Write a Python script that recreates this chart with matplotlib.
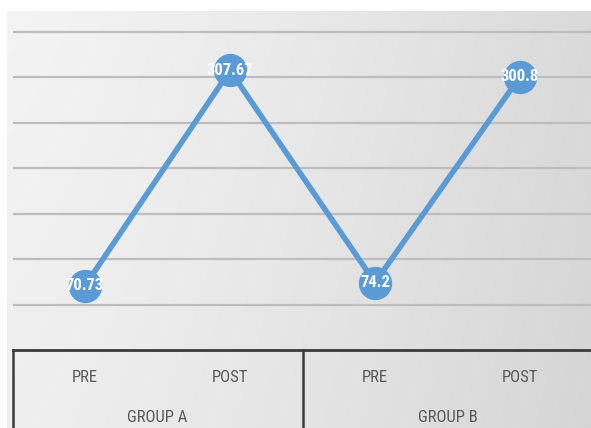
import matplotlib.pyplot as plt
import numpy as np
from matplotlib import font_manager
from matplotlib.lines import Line2D

# data
categories = ['PRE', 'POST', 'PRE', 'POST']
groups = ['GROUP A', 'GROUP B']
scores = [70.73, 307.67, 74.2, 300.8]
labels = ['70.73', '307.67', '74.2', '300.8']


def pick_font(names):
    for name in names:
        try:
            font_manager.findfont(name, fallback_to_default=False)
            return name
        except ValueError:
            pass
    return 'DejaVu Sans'


narrow = pick_font(['Liberation Sans Narrow', 'DejaVu Sans Condensed',
                    'Roboto Condensed', 'Open Sans Condensed', 'Lato',
                    'Roboto'])
lab_font = [narrow, 'DejaVu Sans']

W, H = 591, 428
fig = plt.figure(figsize=(W / 100, H / 100), dpi=100)
fig.patch.set_facecolor('white')

# gray gradient backdrop (chart area), white strip at top and left
bg = fig.add_axes([7 / W, 0, 1 - 7 / W, (H - 11) / H], zorder=0)
gx = np.linspace(0, 1, 300)
gy = np.linspace(0, 1, 200)
X, Y = np.meshgrid(gx, gy)
shade = 0.955 - 0.10 * X ** 1.3 - 0.02 * Y
bg.imshow(np.dstack([shade, shade, shade]), aspect='auto', extent=(0, 1, 0, 1),
          origin='upper', interpolation='bilinear')
bg.set_axis_off()

# y=0 at pixel row 350, y=350 at pixel row 32
px_per_unit = (350 - 32) / 350
ymax = 370
ax_left, ax_right = 12.5 / W, 592.5 / W
ax_bot = (H - 350) / H
ax_h = ymax * px_per_unit / H
ax = fig.add_axes([ax_left, ax_bot, ax_right - ax_left, ax_h], zorder=1)
ax.patch.set_alpha(0)

x = np.arange(len(scores))
ax.set_xlim(-0.5, len(scores) - 0.5)
ax.set_ylim(0, ymax)
ax.set_yticks(np.arange(50, 351, 50))
ax.yaxis.grid(True, color='#bdbdbd', linewidth=1.6)
ax.set_axisbelow(True)
ax.tick_params(left=False, labelleft=False, bottom=False, labelbottom=False)
for side in ['top', 'right', 'left']:
    ax.spines[side].set_visible(False)
ax.spines['bottom'].set_color('#3a3a3a')
ax.spines['bottom'].set_linewidth(2)

ax.plot(x, scores, color='#5b9bd5', linewidth=4, solid_joinstyle='miter',
        marker='o', markersize=23, markerfacecolor='#5b9bd5',
        markeredgecolor='#5b9bd5', clip_on=False, zorder=3)

for xi, yi, txt in zip(x, scores, labels):
    ax.text(xi, yi, txt, ha='center', va='center', color='white',
            fontsize=12, fontweight='bold', family=lab_font, zorder=4)

# category table under the axis
tr = ax.get_xaxis_transform()
y_cat = -28 / (ymax * px_per_unit)
y_grp = -68 / (ymax * px_per_unit)
for xi, cat in zip(x, categories):
    ax.text(xi, y_cat, cat, transform=tr, ha='center', va='center',
            color='#595959', fontsize=12, family=lab_font, clip_on=False)
for gi, grp in enumerate(groups):
    ax.text(2 * gi + 0.5, y_grp, grp, transform=tr, ha='center', va='center',
            color='#595959', fontsize=12, family=lab_font, clip_on=False)

for px in [12.5, 302.5]:
    fig.add_artist(Line2D([px / W, px / W], [0, ax_bot], color='#3a3a3a',
                          linewidth=1.8, transform=fig.transFigure))

fig.savefig('out.png', dpi=100)
